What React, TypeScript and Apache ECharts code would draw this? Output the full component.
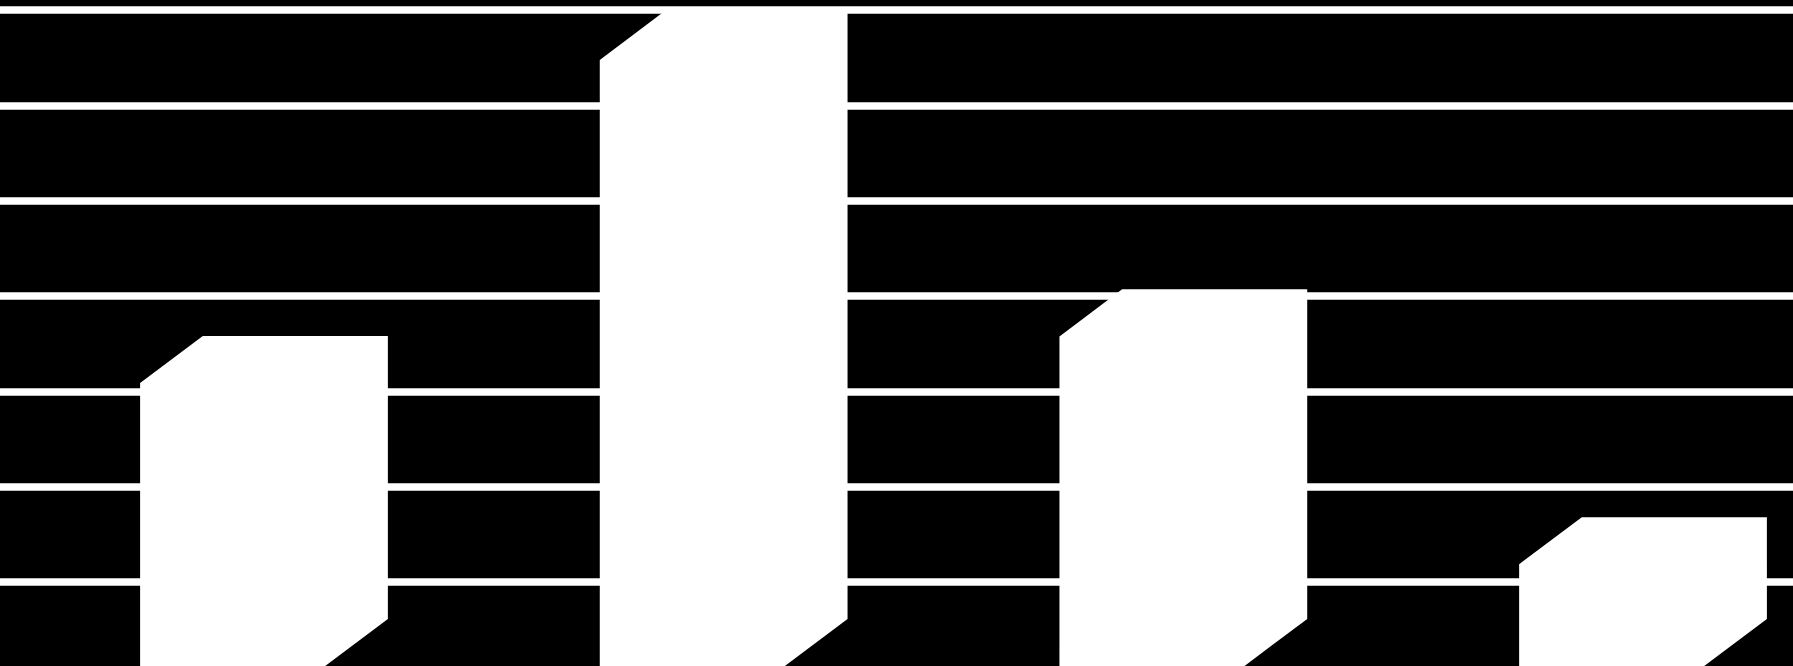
import React, { useEffect, useRef } from "react";
import * as echarts from "echarts";

const categories = ["Q1", "Q2", "Q3", "Q4"];
const values = [35.8, 69.7, 40.7, 16.8];
const yTicks = [0, 10, 20, 30, 40, 50, 60, 70];

export default function App() {
  const ref = useRef<HTMLDivElement>(null);
  useEffect(() => {
    if (!ref.current) return;
    const chart = echarts.init(ref.current, undefined, { renderer: "svg" });
    const data = values.map((v, i) => [i, v, categories[i]]);
    chart.setOption({
      animation: false,
      backgroundColor: "#000000",
      grid: {
        left: 0,
        right: 0,
        top: 10,
        height: 667.33,
        containLabel: false,
        outerBoundsMode: "none",
      },
      xAxis: {
        type: "value",
        min: -0.5743,
        max: 3.3263,
        show: false,
        splitLine: { show: false },
      },
      yAxis: {
        type: "value",
        min: yTicks[0],
        max: yTicks[yTicks.length - 1],
        interval: yTicks[1] - yTicks[0],
        axisLine: { show: false },
        axisTick: { show: false },
        axisLabel: { show: false },
        splitLine: { show: true, lineStyle: { color: "#ffffff", width: 7.5, type: "solid" } },
      },
      series: [
        {
          type: "custom",
          data,
          clip: false,
          renderItem: (params: any, api: any) => {
            const x = api.value(0);
            const v = api.value(1);
            const top = api.coord([x, v]);
            const band = api.size([1, 0])[0];
            const w = band * 0.539;
            const left = top[0] - w / 2;
            const right = top[0] + w / 2;
            const bottom = api.getHeight();
            const cx = w * 0.253;
            const cy = w * 0.19;
            return {
              type: "polygon",
              shape: {
                points: [
                  [left, top[1] + cy],
                  [left + cx, top[1]],
                  [right, top[1]],
                  [right, bottom - cy],
                  [right - cx, bottom],
                  [left, bottom],
                ],
              },
              style: { fill: "#ffffff" },
            };
          },
        },
      ],
    });
    return () => chart.dispose();
  }, []);
  return (
    <div
      ref={ref}
      style={{ position: "fixed", left: 0, top: 0, width: 1793, height: 666, background: "#000" }}
    />
  );
}
